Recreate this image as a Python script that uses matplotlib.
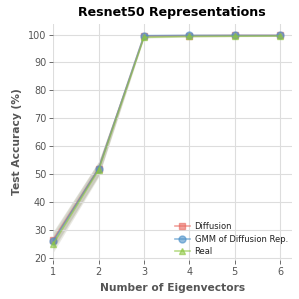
import matplotlib
matplotlib.use("Agg")
import matplotlib.pyplot as plt
import numpy as np

x = [1, 2, 3, 4, 5, 6]
diffusion = [26.5, 52.0, 99.5, 99.6, 99.7, 99.7]
diffusion_sd = [3.0, 2.5, 0.3, 0.2, 0.2, 0.2]
gmm = [26.0, 52.0, 99.6, 99.7, 99.7, 99.7]
gmm_sd = [3.0, 2.5, 0.3, 0.2, 0.2, 0.2]
real = [25.0, 51.5, 99.0, 99.3, 99.4, 99.5]
real_sd = [3.0, 2.5, 0.3, 0.2, 0.2, 0.2]

series = [
    ("Diffusion", diffusion, diffusion_sd, "#e8685f", "s"),
    ("GMM of Diffusion Rep.", gmm, gmm_sd, "#4a90c8", "o"),
    ("Real", real, real_sd, "#8cc63f", "^"),
]

fig, ax = plt.subplots(figsize=(2.99, 2.99), dpi=100)
fig.subplots_adjust(left=0.178, right=0.975, top=0.92, bottom=0.13)

for name, vals, sd, col, mk in series:
    v = np.array(vals); s = np.array(sd)
    ax.fill_between(x, v - s, v + s, color="#a8a890", alpha=0.25, linewidth=0)
for name, vals, sd, col, mk in series:
    ax.plot(x, vals, color=col, marker=mk, markersize=5, linewidth=1.2, alpha=0.6,
            label=name, clip_on=False)

ax.set_xlim(1, 6.25)
ax.set_ylim(19.2, 103.8)
ax.set_xticks(x)
ax.set_yticks([20, 30, 40, 50, 60, 70, 80, 90, 100])
ax.grid(True, color="#dddddd", linewidth=0.8)
for sp in ax.spines.values():
    sp.set_visible(False)
ax.tick_params(axis="both", labelsize=7, colors="#555555", length=3, width=0.6, pad=2)
ax.set_xlabel("Number of Eigenvectors", fontsize=7.7, fontweight="bold", color="#555555")
ax.set_ylabel("Test Accuracy (%)", fontsize=7.7, fontweight="bold", color="#555555")
ax.set_title("Resnet50 Representations", fontsize=9.1, fontweight="bold", pad=6)
leg = ax.legend(loc="lower right", fontsize=6.0, frameon=False, handlelength=1.8,
                labelspacing=0.42, borderaxespad=0.05, handletextpad=0.6)
for t in leg.get_texts():
    t.set_color("#222222")

fig.savefig("out.png", dpi=100)
